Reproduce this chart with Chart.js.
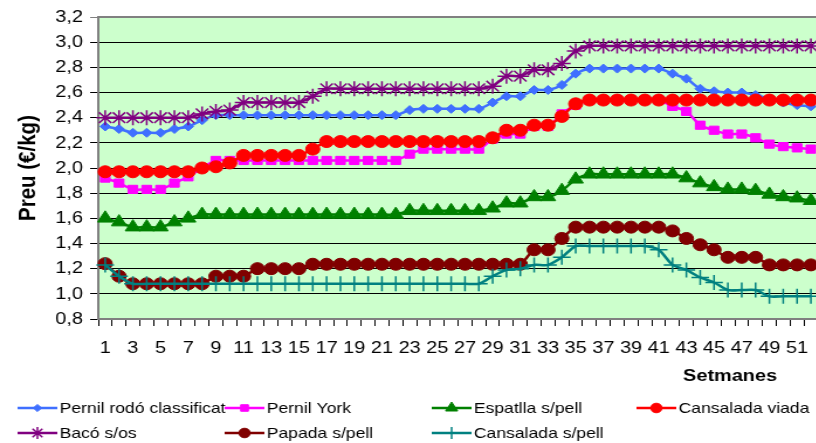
<!DOCTYPE html>
<html>
<head>
<meta charset="UTF-8">
<title>Preus porcí</title>
<script src="https://cdn.jsdelivr.net/npm/chart.js"></script>
<style>
  html, body { margin: 0; padding: 0; background: #fff; overflow: hidden; }
  /* la imatge original està estirada en horitzontal */
  #c { transform: scaleX(1.17); transform-origin: 0 0; display: block; }
</style>
</head>
<body>
<canvas id="c" width="708" height="443" style="width:708px;height:443px"></canvas>
<script>
// setmanes 1..52
const setmanes = ['1','2','3','4','5','6','7','8','9','10','11','12','13','14','15','16','17','18','19','20',
  '21','22','23','24','25','26','27','28','29','30','31','32','33','34','35','36','37','38','39','40',
  '41','42','43','44','45','46','47','48','49','50','51','52'];

const pernilRodo = [2.33,2.31,2.28,2.28,2.28,2.31,2.33,2.38,2.42,2.42,2.42,2.42,2.42,2.42,2.42,2.42,2.42,2.42,2.42,2.42,
  2.42,2.42,2.46,2.47,2.47,2.47,2.47,2.47,2.52,2.57,2.57,2.62,2.62,2.66,2.75,2.79,2.79,2.79,2.79,2.79,
  2.79,2.75,2.71,2.63,2.61,2.60,2.60,2.58,2.55,2.52,2.50,2.49];
const pernilYork = [1.92,1.88,1.83,1.83,1.83,1.88,1.93,2.00,2.06,2.06,2.06,2.06,2.06,2.06,2.06,2.06,2.06,2.06,2.06,2.06,
  2.06,2.06,2.11,2.15,2.15,2.15,2.15,2.15,2.23,2.27,2.27,2.33,2.33,2.43,2.50,2.54,2.54,2.54,2.54,2.54,
  2.54,2.49,2.45,2.34,2.30,2.27,2.27,2.24,2.19,2.17,2.16,2.15];
const espatlla = [1.60,1.57,1.53,1.53,1.53,1.57,1.60,1.63,1.63,1.63,1.63,1.63,1.63,1.63,1.63,1.63,1.63,1.63,1.63,1.63,
  1.63,1.63,1.66,1.66,1.66,1.66,1.66,1.66,1.68,1.72,1.72,1.77,1.77,1.82,1.91,1.95,1.95,1.95,1.95,1.95,
  1.95,1.95,1.92,1.88,1.85,1.83,1.83,1.82,1.79,1.77,1.76,1.74];
const cansaladaViada = [1.97,1.97,1.97,1.97,1.97,1.97,1.97,2.00,2.01,2.04,2.10,2.10,2.10,2.10,2.10,2.15,2.21,2.21,2.21,2.21,
  2.21,2.21,2.21,2.21,2.21,2.21,2.21,2.21,2.24,2.30,2.30,2.34,2.34,2.41,2.51,2.54,2.54,2.54,2.54,2.54,
  2.54,2.54,2.54,2.54,2.54,2.54,2.54,2.54,2.54,2.54,2.54,2.54];
const baco = [2.40,2.40,2.40,2.40,2.40,2.40,2.40,2.43,2.45,2.46,2.52,2.52,2.52,2.52,2.52,2.57,2.63,2.63,2.63,2.63,
  2.63,2.63,2.63,2.63,2.63,2.63,2.63,2.63,2.65,2.73,2.73,2.78,2.78,2.83,2.93,2.97,2.97,2.97,2.97,2.97,
  2.97,2.97,2.97,2.97,2.97,2.97,2.97,2.97,2.97,2.97,2.97,2.97];
const papada = [1.24,1.14,1.08,1.08,1.08,1.08,1.08,1.08,1.14,1.14,1.14,1.20,1.20,1.20,1.20,1.235,1.235,1.235,1.235,1.235,
  1.235,1.235,1.235,1.235,1.235,1.235,1.235,1.235,1.235,1.235,1.235,1.35,1.35,1.44,1.53,1.53,1.53,1.53,1.53,1.53,
  1.53,1.50,1.44,1.39,1.35,1.29,1.29,1.29,1.23,1.23,1.23,1.23];
const cansaladaPell = [1.23,1.14,1.08,1.08,1.08,1.08,1.08,1.08,1.08,1.08,1.08,1.08,1.08,1.08,1.08,1.08,1.08,1.08,1.08,1.08,
  1.08,1.08,1.08,1.08,1.08,1.08,1.08,1.08,1.14,1.19,1.20,1.23,1.23,1.29,1.38,1.38,1.38,1.38,1.38,1.38,
  1.35,1.23,1.19,1.13,1.09,1.03,1.03,1.03,0.98,0.98,0.98,0.98];

const yTicks = ['0,8','1,0','1,2','1,4','1,6','1,8','2,0','2,2','2,4','2,6','2,8','3,0','3,2'];

const FONT = "'Liberation Sans', Arial, sans-serif";

function serie(label, data, color, style, radius, i) {
  const obert = style === 'star' || style === 'cross';
  return {
    label: label, data: data,
    borderColor: color, backgroundColor: color,
    borderWidth: 2.5, tension: 0.25,
    pointStyle: style, pointRadius: radius,
    pointBackgroundColor: color, pointBorderColor: color,
    pointBorderWidth: obert ? 1.5 : 1,
    order: 10 - i
  };
}

const datasets = [
  serie('Pernil rodó classificat', pernilRodo, '#3F6FFF', 'rectRot', 4.5, 0),
  serie('Pernil York', pernilYork, '#FF00FF', 'rect', 5.8, 1),
  serie('Espatlla s/pell', espatlla, '#008000', 'triangle', 7.5, 2),
  serie('Cansalada viada', cansaladaViada, '#FF0000', 'circle', 6, 3),
  serie('Bacó s/os', baco, '#800080', 'star', 7.5, 4),
  serie('Papada s/pell', papada, '#800000', 'circle', 6, 5),
  serie('Cansalada s/pell', cansaladaPell, '#008080', 'cross', 7.5, 6)
];

// fons verd i vora de l'àrea de dibuix
const fons = {
  id: 'fons',
  beforeDraw(chart) {
    const a = chart.chartArea, ctx = chart.ctx;
    ctx.save();
    ctx.fillStyle = '#CCFFCC';
    ctx.fillRect(a.left, a.top, a.right - a.left, a.bottom - a.top);
    ctx.restore();
  },
  beforeDatasetsDraw(chart) {
    const a = chart.chartArea, ctx = chart.ctx;
    ctx.save();
    ctx.strokeStyle = '#808080';
    ctx.lineWidth = 2;
    ctx.beginPath();
    ctx.moveTo(a.left, a.top);
    ctx.lineTo(a.right, a.top);
    ctx.lineTo(a.right, a.bottom);
    ctx.stroke();
    ctx.restore();
  }
};

// llegenda en columnes i títol de l'eix X
const llegenda = {
  id: 'llegenda',
  afterDraw(chart) {
    const ctx = chart.ctx;
    const cols = [15, 192, 369, 544];
    const rows = [408, 433];
    ctx.save();
    chart.data.datasets.forEach((ds, i) => {
      const x = cols[i % 4], y = rows[Math.floor(i / 4)];
      ctx.strokeStyle = ds.borderColor;
      ctx.lineWidth = 2.5;
      ctx.beginPath();
      ctx.moveTo(x, y);
      ctx.lineTo(x + 34, y);
      ctx.stroke();
      ctx.fillStyle = ds.borderColor;
      ctx.lineWidth = ds.pointBorderWidth;
      Chart.helpers.drawPoint(ctx, {pointStyle: ds.pointStyle, radius: ds.pointRadius * 0.8, rotation: 0, borderWidth: ds.pointBorderWidth}, x + 17, y);
      ctx.fillStyle = '#000';
      ctx.font = '15px ' + FONT;
      ctx.textBaseline = 'middle';
      ctx.textAlign = 'left';
      ctx.fillText(ds.label, x + 36, y + 1);
    });
    ctx.font = 'bold 17px ' + FONT;
    ctx.textAlign = 'center';
    ctx.fillStyle = '#000';
    ctx.fillText('Setmanes', 624, 376);
    ctx.restore();
  }
};

new Chart(document.getElementById('c'), {
  type: 'line',
  data: { labels: setmanes, datasets: datasets },
  plugins: [fons, llegenda],
  options: {
    responsive: false,
    devicePixelRatio: 1,
    animation: false,
    layout: { padding: { left: 0, top: 17, right: 5, bottom: 72.6 } },
    plugins: { legend: { display: false }, tooltip: { enabled: false } },
    scales: {
      x: {
        offset: true,
        grid: { offset: true, drawOnChartArea: false, drawTicks: true, tickLength: 7, color: '#000' },
        border: { color: '#808080', width: 2 },
        ticks: {
          autoSkip: false, maxRotation: 0, padding: 12, color: '#000',
          font: { family: FONT, size: 17 },
          callback: function (v, i) { return i % 2 === 0 ? setmanes[i] : ''; }
        }
      },
      y: {
        min: 0.8, max: 3.2,
        afterFit(scale) { scale.width = 84; },
        grid: {
          tickLength: 7,
          color: (c) => (c.tick && Math.abs(c.tick.value - 3.2) < 1e-6) ? '#808080' : '#000'
        },
        border: { color: '#808080', width: 2 },
        ticks: {
          stepSize: 0.2, padding: 6, color: '#000',
          font: { family: FONT, size: 17 },
          callback: function (v, i) { return yTicks[i]; }
        },
        title: {
          display: true, text: 'Preu (€/kg)', color: '#000',
          font: { family: FONT, size: 20.5, weight: 'bold' },
          padding: { top: 12, bottom: 0 }
        }
      }
    }
  }
});
</script>
</body>
</html>
